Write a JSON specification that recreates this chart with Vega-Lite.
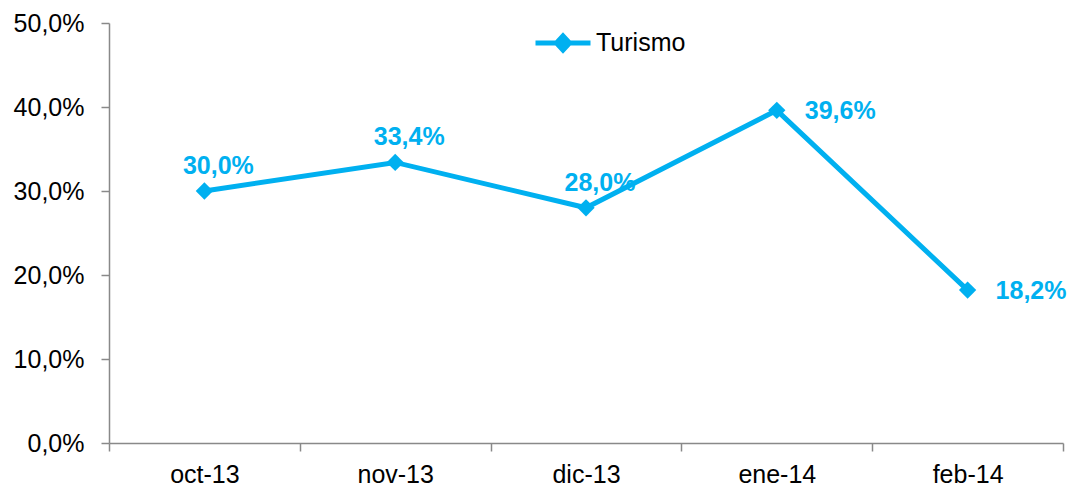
{
  "$schema": "https://vega.github.io/schema/vega-lite/v6.json",
  "width": 954,
  "height": 420,
  "autosize": {"type": "none"},
  "padding": {"left": 109, "top": 23, "right": 10, "bottom": 46},
  "background": "white",
  "config": {
    "locale": {"number": {"decimal": ",", "thousands": ".", "grouping": [3], "currency": ["", "€"]}},
    "view": {"stroke": null},
    "font": "Liberation Sans"
  },
  "data": {
    "values": [
      {"mes": "oct-13", "valor": 0.300, "serie": "Turismo", "pos": "arriba"},
      {"mes": "nov-13", "valor": 0.334, "serie": "Turismo", "pos": "arriba"},
      {"mes": "dic-13", "valor": 0.280, "serie": "Turismo", "pos": "arriba"},
      {"mes": "ene-14", "valor": 0.396, "serie": "Turismo", "pos": "derecha"},
      {"mes": "feb-14", "valor": 0.182, "serie": "Turismo", "pos": "derecha"}
    ]
  },
  "encoding": {
    "x": {
      "field": "mes", "type": "nominal", "sort": null,
      "scale": {"paddingInner": 0, "paddingOuter": 0},
      "axis": {
        "title": null, "labelAngle": 0, "tickBand": "extent",
        "domainColor": "#898989", "domainWidth": 1.5, "tickColor": "#898989", "tickWidth": 1.5, "tickSize": 8,
        "labelFontSize": 25, "labelColor": "#000000", "labelPadding": 11, "labelFont": "Liberation Sans"
      }
    },
    "y": {
      "field": "valor", "type": "quantitative",
      "scale": {"domain": [0, 0.5], "nice": false},
      "axis": {
        "title": null, "values": [0, 0.1, 0.2, 0.3, 0.4, 0.5], "format": ".1%", "grid": false,
        "domainColor": "#898989", "domainWidth": 1.5, "tickColor": "#898989", "tickWidth": 1.5, "tickSize": 8,
        "labelFontSize": 25, "labelColor": "#000000", "labelPadding": 17, "labelFont": "Liberation Sans"
      }
    }
  },
  "layer": [
    {
      "mark": {"type": "line", "strokeWidth": 5, "point": {"shape": "diamond", "filled": true, "size": 300, "opacity": 1}},
      "encoding": {
        "color": {
          "field": "serie", "type": "nominal",
          "scale": {"range": ["#00B0F0"]},
          "legend": {
            "title": null, "orient": "none", "legendX": 424, "legendY": -10,
            "symbolType": "M-1,0H1M0,-0.26L0.24,0L0,0.26L-0.24,0Z",
            "symbolSize": 3025, "symbolStrokeWidth": 5, "symbolFillColor": "#00B0F0", "symbolStrokeColor": "#00B0F0",
            "labelFontSize": 25, "labelColor": "#000000", "labelFont": "Liberation Sans", "labelOffset": 3,
            "padding": 0
          }
        }
      }
    },
    {
      "transform": [{"filter": "datum.pos == 'arriba'"}],
      "mark": {"type": "text", "fontWeight": "bold", "fontSize": 25, "color": "#00B0F0", "align": "center", "baseline": "alphabetic", "dx": 14, "dy": -17, "font": "Liberation Sans"},
      "encoding": {"text": {"field": "valor", "type": "quantitative", "format": ".1%"}}
    },
    {
      "transform": [{"filter": "datum.pos == 'derecha'"}],
      "mark": {"type": "text", "fontWeight": "bold", "fontSize": 25, "color": "#00B0F0", "align": "left", "baseline": "middle", "dx": 28, "dy": 1, "font": "Liberation Sans"},
      "encoding": {"text": {"field": "valor", "type": "quantitative", "format": ".1%"}}
    }
  ]
}
